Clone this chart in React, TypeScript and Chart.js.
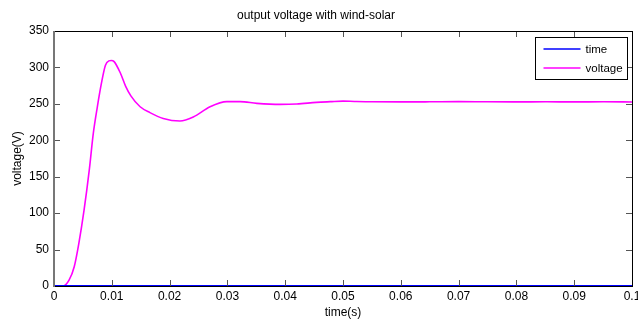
import React, { useEffect, useRef } from "react";
import { Chart, registerables } from "chart.js";

Chart.register(...registerables);

const timeValues = [
  0, 0.0016, 0.0026, 0.0035, 0.0043, 0.0052, 0.0061, 0.0068, 0.0075, 0.0082,
  0.0089, 0.0095, 0.0099, 0.0104, 0.0115, 0.0124, 0.0133, 0.0149, 0.0166,
  0.0189, 0.0218, 0.0241, 0.027, 0.0299, 0.0322, 0.0351, 0.0391, 0.042,
  0.0454, 0.0478, 0.05, 0.052, 0.055, 0.06, 0.065, 0.07, 0.075, 0.08, 0.085,
  0.09, 0.095, 0.1,
];
const voltageValues = [
  0, 0, 8, 26.5, 58.6, 104, 159, 209.6, 246, 278, 303, 309, 309.5, 308, 292,
  274, 261, 246, 238, 230, 226.5, 232, 246, 253, 253, 250.7, 249.3, 249.8,
  252, 253, 253.8, 253.3, 252.8, 252.7, 252.8, 253, 252.8, 252.7, 252.8,
  252.7, 252.8, 252.6,
];
const timeSeriesX = [0, 0.1];
const timeSeriesY = [0, 0];

const seriesLabels = ["time", "voltage"];
const seriesColors = ["#0000ff", "#ff00ff"];

const titleText = "output voltage with wind-solar";
const xTitle = "time(s)";
const yTitle = "voltage(V)";

const FONT = "'Liberation Sans', Arial, Helvetica, sans-serif";

const boxPlugin = {
  id: "matlabBox",
  afterDatasetsDraw(chart: any) {
    const { ctx, chartArea } = chart;
    const { left, right, top, bottom } = chartArea;
    const xs = chart.scales.x;
    const ys = chart.scales.y;
    ctx.save();
    ctx.strokeStyle = "#555";
    ctx.lineWidth = 1;
    xs.ticks.forEach((t: any) => {
      const px = Math.round(xs.getPixelForValue(t.value)) + 0.5;
      ctx.beginPath();
      ctx.moveTo(px, bottom);
      ctx.lineTo(px, bottom - 6);
      ctx.moveTo(px, top);
      ctx.lineTo(px, top + 6);
      ctx.stroke();
    });
    ys.ticks.forEach((t: any) => {
      const py = Math.round(ys.getPixelForValue(t.value)) + 0.5;
      ctx.beginPath();
      ctx.moveTo(left, py);
      ctx.lineTo(left + 6, py);
      ctx.moveTo(right, py);
      ctx.lineTo(right - 6, py);
      ctx.stroke();
    });
    ctx.strokeStyle = "#000";
    ctx.lineWidth = 1;
    ctx.beginPath();
    ctx.moveTo(left, top + 0.5);
    ctx.lineTo(right, top + 0.5);
    ctx.moveTo(right + 0.5, top);
    ctx.lineTo(right + 0.5, bottom + 1);
    ctx.moveTo(left, bottom + 0.5);
    ctx.lineTo(right + 1, bottom + 0.5);
    ctx.stroke();
    ctx.strokeStyle = "#777";
    ctx.lineWidth = 2;
    ctx.beginPath();
    ctx.moveTo(left, top);
    ctx.lineTo(left, bottom + 1);
    ctx.stroke();

    const bw = 92;
    const bh = 42;
    const bx = Math.round(right - 5 - bw) + 0.5;
    const by = Math.round(top + 6) + 0.5;
    ctx.fillStyle = "#fff";
    ctx.fillRect(bx, by, bw, bh);
    ctx.strokeStyle = "#000";
    ctx.lineWidth = 1;
    ctx.strokeRect(bx, by, bw, bh);
    ctx.font = `11.5px ${FONT}`;
    ctx.textBaseline = "middle";
    ctx.textAlign = "left";
    chart.data.datasets.forEach((ds: any, i: number) => {
      const ly = by + 11.5 + i * 19;
      ctx.strokeStyle = ds.borderColor;
      ctx.lineWidth = 1.5;
      ctx.beginPath();
      ctx.moveTo(bx + 8, ly);
      ctx.lineTo(bx + 45, ly);
      ctx.stroke();
      ctx.fillStyle = "#000";
      ctx.fillText(ds.label, bx + 50, ly + 0.5);
    });
    ctx.restore();
  },
};

export default function App() {
  const ref = useRef<HTMLCanvasElement | null>(null);

  useEffect(() => {
    if (!ref.current) return;
    const chart = new Chart(ref.current, {
      type: "line",
      data: {
        datasets: [
          {
            label: seriesLabels[0],
            data: timeSeriesX.map((x, i) => ({ x, y: timeSeriesY[i] })),
            borderColor: seriesColors[0],
            borderWidth: 2,
            pointRadius: 0,
            clip: false as any,
          },
          {
            label: seriesLabels[1],
            data: timeValues.map((x, i) => ({ x, y: voltageValues[i] })),
            borderColor: seriesColors[1],
            borderWidth: 1.6,
            pointRadius: 0,
            cubicInterpolationMode: "monotone",
            clip: false as any,
          },
        ],
      },
      options: {
        animation: false,
        responsive: true,
        maintainAspectRatio: false,
        layout: { padding: { left: 0, right: 6, top: 0, bottom: 0 } },
        plugins: {
          legend: { display: false },
          tooltip: { enabled: false },
          title: {
            display: true,
            text: titleText,
            color: "#000",
            font: { family: FONT, size: 12, weight: "normal", lineHeight: 1.2 },
            padding: { top: 8.4, bottom: 8.2 },
          },
        },
        scales: {
          x: {
            type: "linear",
            min: 0,
            max: 0.1,
            grid: { display: false, drawTicks: false },
            border: { display: false },
            ticks: {
              stepSize: 0.01,
              autoSkip: false,
              maxRotation: 0,
              padding: 3,
              color: "#000",
              font: { family: FONT, size: 12 },
              callback: (v: any) => String(Number(Number(v).toFixed(2))),
            },
            title: {
              display: true,
              text: xTitle,
              color: "#000",
              font: { family: FONT, size: 12, lineHeight: 1.2 },
              padding: { top: 0, bottom: 1 },
            },
            afterFit: (s: any) => {
              s.height = 35;
              s.paddingLeft = 0;
              s.paddingRight = 0;
            },
          },
          y: {
            min: 0,
            max: 350,
            grid: { display: false, drawTicks: false },
            border: { display: false },
            ticks: {
              stepSize: 50,
              padding: 5,
              color: "#000",
              font: { family: FONT, size: 12 },
            },
            title: {
              display: true,
              text: yTitle,
              color: "#000",
              font: { family: FONT, size: 12, lineHeight: 1.2 },
              padding: { top: 10, bottom: 0 },
            },
            afterFit: (s: any) => {
              s.width = 54;
              s.paddingTop = 0;
              s.paddingBottom = 0;
            },
          },
        },
      },
      plugins: [boxPlugin],
    });
    return () => chart.destroy();
  }, []);

  return (
    <div
      style={{
        position: "fixed",
        left: 0,
        top: 0,
        width: 638,
        height: 321,
        background: "#fff",
      }}
    >
      <canvas ref={ref} />
    </div>
  );
}
